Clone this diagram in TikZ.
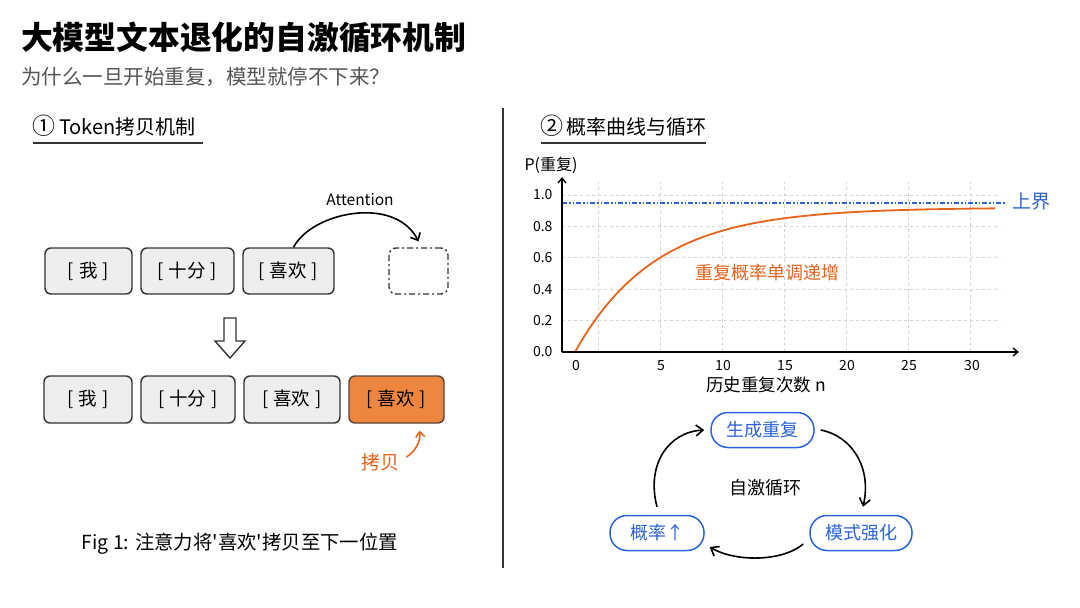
\documentclass[tikz,border=0pt]{standalone}
\usepackage{fontspec}
\setmainfont{Noto Sans CJK SC}
\newfontfamily\plainf{Noto Sans CJK SC}
\usetikzlibrary{arrows.meta}
\definecolor{tokfill}{HTML}{EEEEEE}
\definecolor{tokdraw}{HTML}{333333}
\definecolor{orfill}{HTML}{EE8640}
\definecolor{ortext}{HTML}{E5641C}
\definecolor{bluec}{HTML}{2B63D9}
\definecolor{gridc}{HTML}{D2D2D2}
\definecolor{subg}{HTML}{555555}
\newcommand{\fs}[1]{\fontsize{#1}{#1}\selectfont}
\newcommand{\tk}[1]{[\hspace{5pt}#1\hspace{5pt}]}
\tikzset{
  tok/.style={draw=tokdraw, fill=tokfill, line width=1.4pt, rounded corners=6pt, minimum height=46pt, inner sep=0pt, font=\fs{18.5}},
  pill/.style={draw=bluec, line width=1.5pt, rounded corners=17pt, minimum height=35pt, inner sep=0pt, text=bluec, font=\fs{18}},
  arr/.style={line width=1.6pt, -{Straight Barb[length=7pt,width=11pt]}},
  gridl/.style={gridc, dashed, line width=0.8pt},
  axis/.style={line width=1.3pt, -{Straight Barb[length=5pt,width=8pt]}},
  tick/.style={font=\fs{14}},
}
\begin{document}
\begin{tikzpicture}[x=1pt,y=-1pt]
\fill[white] (0,0) rectangle (1080,608);
\useasboundingbox (0,0) rectangle (1080,608);
% title
\node[anchor=west, font=\fs{31.8}\bfseries, inner sep=0pt] (title) at (21,38) {大模型文本退化的自激循环机制};
\node[anchor=west, font=\fs{20.5}, text=subg, inner sep=0pt] (sub) at (21,77) {为什么一旦开始重复，模型就停不下来？};
% divider
\draw[line width=1.2pt, tokdraw] (503,108) -- (503,568);
% section 1
\node[anchor=west, font=\fs{20}, inner sep=0pt] (h1) at (32,126) {{\fs{23}①}\hspace{4pt}Token拷贝机制};
\draw[line width=2pt, tokdraw] (33,143) -- (203,143);
% row 1
\node[tok, minimum width=87pt] (a1) at (88.5,271) {\tk{我}};
\node[tok, minimum width=93pt] (a2) at (187.5,271) {\tk{十分}};
\node[tok, minimum width=91pt] (a3) at (288.5,271) {\tk{喜欢}};
\node[draw=tokdraw, line width=1.4pt, rounded corners=7pt, dash pattern=on 6pt off 3pt on 2pt off 3pt, minimum width=59pt, minimum height=46pt] (d) at (418.5,271) {};
\draw[line width=1.6pt, -{Straight Barb[length=6pt,width=11pt]}] ([xshift=5pt]a3.north) .. controls (312,212) and (395,195) .. ([yshift=6pt]d.north);
\node[font=\fs{15.5}] (att) at (360,200) {Attention};
% hollow arrow
\draw[line width=1.4pt, tokdraw, fill=white] (224,318) -- (236,318) -- (236,341) -- (245,341) -- (230,358) -- (215,341) -- (224,341) -- cycle;
% row 2
\node[tok, minimum width=88pt, minimum height=47pt] (b1) at (88,399.5) {\tk{我}};
\node[tok, minimum width=94pt, minimum height=47pt] (b2) at (188,399.5) {\tk{十分}};
\node[tok, minimum width=96pt, minimum height=47pt] (b3) at (292,399.5) {\tk{喜欢}};
\node[tok, fill=orfill, draw=tokdraw!80!orfill, minimum width=95pt, minimum height=47pt] (b4) at (396.5,399.5) {\tk{喜欢}};
\node[text=ortext, font=\fs{19}] (copy) at (380,462) {拷贝};
\draw[ortext, line width=1.6pt, -{Straight Barb[length=5pt,width=9pt]}] ([xshift=4pt,yshift=5pt]copy.east) .. controls (414,452) and (421,443) .. ([xshift=23pt,yshift=-7pt]b4.south);
% caption
\node[font=\fs{19.4}\plainf] (cap) at (240,544) {Fig 1: 注意力将'喜欢'拷贝至下一位置};
% section 2
\node[anchor=west, font=\fs{20}, inner sep=0pt] (h2) at (540,126) {{\fs{23}②}\hspace{3pt}概率曲线与循环};
\draw[line width=2pt, tokdraw] (541,143) -- (706,143);
% chart grid
\foreach \p in {0.2,0.4,0.6,0.8,1.0} {
  \draw[gridl] (562,{352-157*\p}) -- (1000,{352-157*\p});
}
\foreach \gx in {598,660,722,784,846,908,970} {
  \draw[gridl] (\gx,352) -- (\gx,182);
}
% upper bound
\draw[bluec, line width=1.3pt, dash pattern=on 5pt off 2pt on 1.5pt off 2pt on 1.5pt off 2pt] (562,203) -- (1006,203);
\node[text=bluec, font=\fs{19}, anchor=west, inner sep=0pt] (ub) at (1012,201) {上界};
% curve
\draw[ortext, line width=1.8pt] plot[domain=575:995, samples=100, smooth] (\x, {352-157*0.92*(1-exp(-(\x-575)/80.5))});
\node[text=ortext, font=\fs{18}] (lbl) at (767,273) {重复概率单调递增};
% axes
\coordinate (o) at (562,352);
\coordinate (ytop) at (562,177);
\coordinate (xend) at (1019,352);
\draw[axis] (o) -- (ytop);
\draw[axis] (o) -- (xend);
\node[font=\fs{16}] (plab) at (551,165) {P(重复)};
\foreach \p/\t in {0/0.0,0.2/0.2,0.4/0.4,0.6/0.6,0.8/0.8,1/1.0} {
  \node[tick, anchor=east] at (556,{352-157*\p}) {\t};
}
\foreach \gx/\t in {576/0,661/5,723/10,785/15,847/20,909/25,972/30} {
  \node[tick] at (\gx,366) {\t};
}
\node[font=\fs{17.5}] (xlab) at (766,385) {历史重复次数 n};
% cycle
\node[pill, minimum width=103pt] (g) at (762.5,430) {生成重复};
\node[pill, minimum width=102pt] (m) at (861,533) {模式强化};
\node[pill, minimum width=94pt] (pr) at (657,533) {概率↑};
\node[font=\fs{18}] (cyc) at (765,488) {自激循环};
\draw[arr] ([xshift=6pt]g.east) .. controls (852,436) and (872,468) .. ([xshift=2pt,yshift=8pt]m.north);
\draw[arr] ([xshift=-6pt,yshift=-11pt]m.west) .. controls (782,562) and (735,562) .. ([xshift=5pt,yshift=-14pt]pr.east);
\draw[arr] ([yshift=8pt]pr.north) .. controls (646,465) and (668,432) .. ([xshift=-6pt]g.west);
\end{tikzpicture}
\end{document}
